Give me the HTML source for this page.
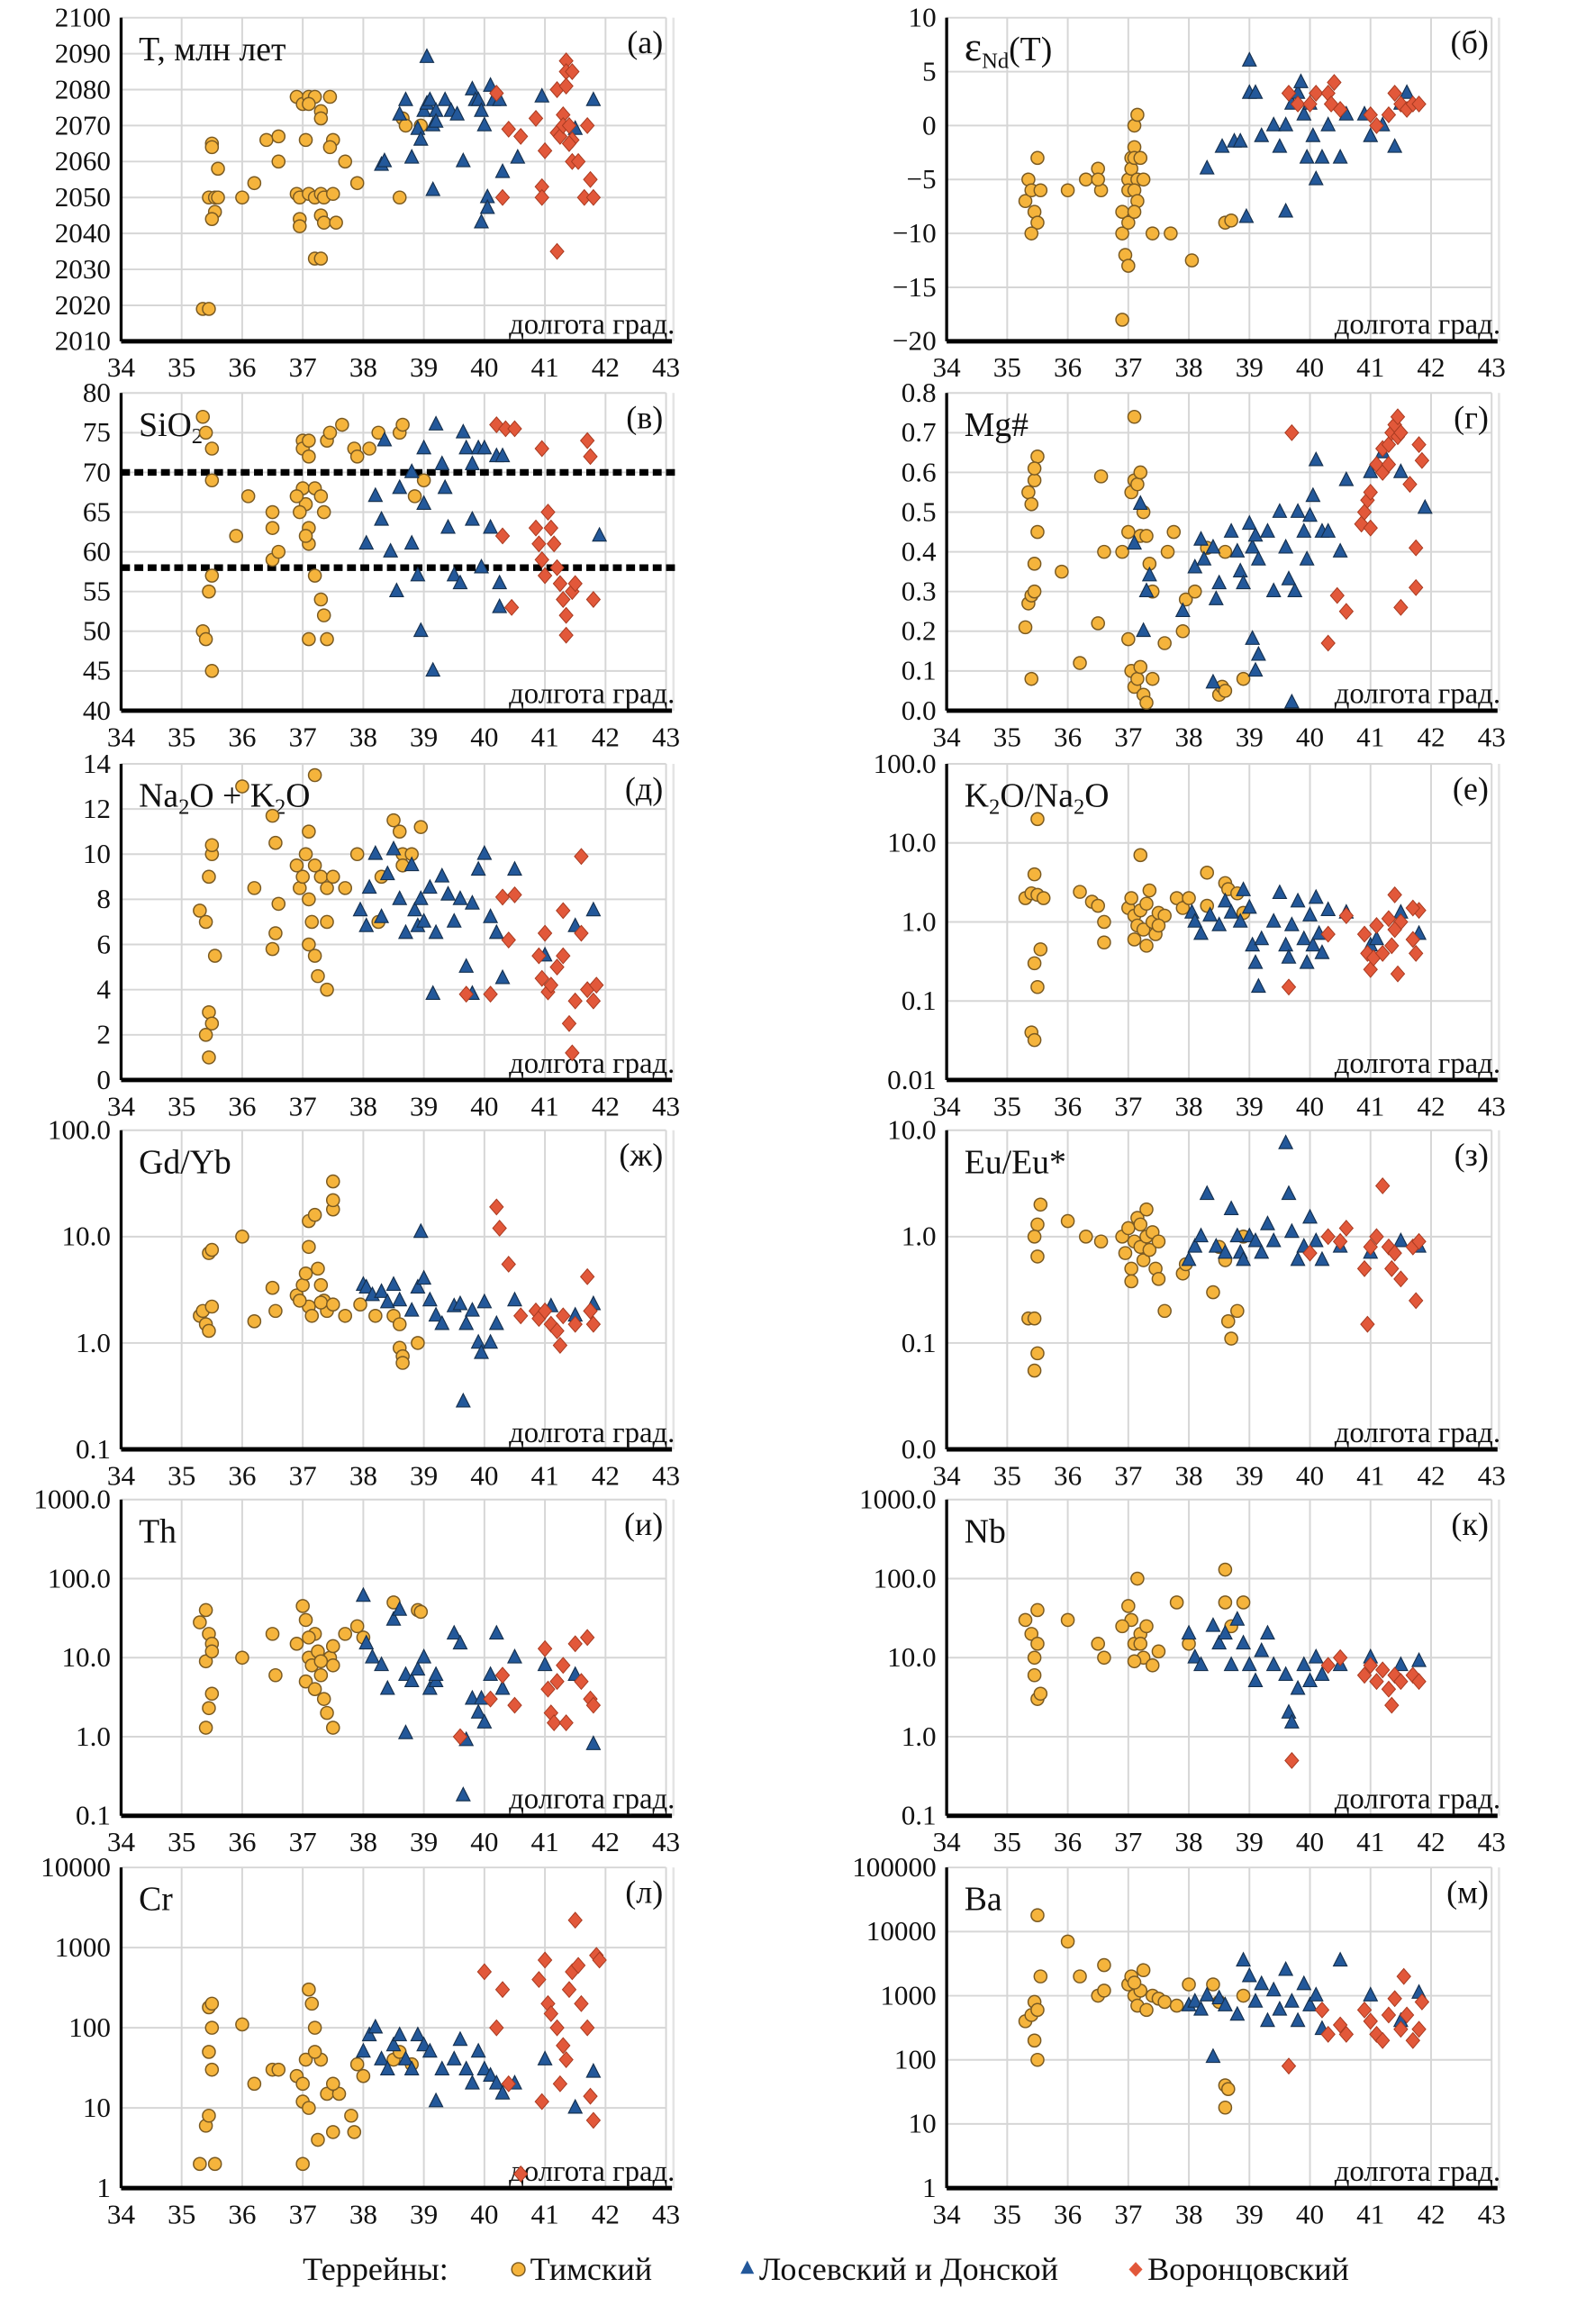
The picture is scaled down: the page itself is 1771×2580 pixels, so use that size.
<!DOCTYPE html>
<html><head><meta charset="utf-8"><style>
html,body{margin:0;padding:0;background:#fff}
svg{display:block}
text{font-family:"Liberation Serif","DejaVu Serif",serif;fill:#111}
</style></head><body>
<svg id="fig" width="1771" height="2580" viewBox="0 0 1080 1573" preserveAspectRatio="none" xmlns="http://www.w3.org/2000/svg"></svg>
<script>
// ---------- data ----------
const xTicks=[34,35,36,37,38,39,40,41,42,43];
const aTicks=[2010,2020,2030,2040,2050,2060,2070,2080,2090,2100];
const aTim=[[35.35,2019],[35.45,2019],[35.5,2065],[35.5,2064],[35.6,2058],[35.45,2050],[35.55,2050],[35.6,2050],[35.55,2046],[35.5,2044],[36,2050],[36.2,2054],[36.4,2066],[36.6,2067],[36.6,2060],[36.9,2078],[37.0,2076],[37.1,2078],[37.2,2078],[37.1,2076],[37.45,2078],[37.3,2074],[37.3,2072],[37.05,2066],[37.5,2066],[37.45,2064],[37.7,2060],[36.9,2051],[36.95,2050],[37.1,2051],[37.2,2050],[37.3,2051],[37.35,2050],[37.5,2051],[36.95,2044],[36.95,2042],[37.3,2045],[37.35,2043],[37.55,2043],[37.9,2054],[37.2,2033],[37.3,2033],[38.6,2050],[38.65,2072],[38.7,2070],[38.95,2070]];
const aLos=[[38.3,2059],[38.35,2060],[38.6,2073],[38.7,2077],[38.8,2061],[38.9,2069],[38.95,2066],[39.0,2074],[39.05,2076],[39.05,2089],[39.1,2077],[39.15,2070],[39.2,2074],[39.2,2071],[39.15,2052],[39.35,2077],[39.45,2074],[39.55,2073],[39.65,2060],[39.8,2080],[39.85,2077],[39.9,2077],[39.95,2074],[40.0,2070],[39.95,2043],[40.05,2050],[40.05,2047],[40.1,2081],[40.15,2077],[40.25,2077],[40.3,2057],[40.55,2061],[40.95,2078],[41.5,2069],[41.8,2077]];
const aVor=[[40.2,2079],[40.3,2050],[40.4,2069],[40.6,2067],[40.85,2072],[40.95,2053],[40.95,2050],[41.0,2063],[41.2,2080],[41.3,2073],[41.35,2088],[41.35,2085],[41.45,2085],[41.35,2081],[41.2,2068],[41.25,2067],[41.3,2070],[41.4,2070],[41.45,2066],[41.4,2065],[41.45,2060],[41.55,2060],[41.2,2035],[41.7,2070],[41.75,2055],[41.65,2050],[41.8,2050]];

const bTicks=[-20,-15,-10,-5,0,5,10];
const bTim=[[35.3,-7],[35.35,-5],[35.5,-3],[35.4,-6],[35.45,-8],[35.5,-9],[35.4,-10],[35.55,-6],[36.0,-6],[36.3,-5],[36.5,-4],[36.55,-6],[36.5,-5],[36.9,-8],[36.9,-10],[36.95,-12],[36.9,-18],[37.0,-13],[37.0,-9],[37.0,-5],[37.05,-3],[37.05,-4],[37.0,-6],[37.1,-2],[37.1,0],[37.15,1],[37.1,-3],[37.15,-5],[37.1,-6],[37.15,-7],[37.1,-8],[37.2,-3],[37.25,-5],[37.4,-10],[37.7,-10],[38.05,-12.5],[38.6,-9],[38.7,-8.8]];
const bLos=[[38.3,-4],[38.55,-2],[38.75,-1.5],[38.85,-1.5],[38.95,-8.5],[39.0,6],[39.0,3],[39.1,3],[39.2,-1],[39.4,0],[39.5,-2],[39.6,0],[39.6,-8],[39.7,2],[39.8,3],[39.85,4],[39.9,1],[39.95,-3],[40.0,2],[40.05,-1],[40.1,-5],[40.2,-3],[40.3,0],[40.5,-3],[40.6,1],[40.9,1],[41.0,-1],[41.2,0],[41.4,-2],[41.5,2],[41.6,3]];
const bVor=[[39.65,3],[39.8,2],[40.0,2],[40.1,3],[40.3,3],[40.4,4],[40.35,2],[40.5,1.5],[41.0,1],[41.1,0],[41.3,1],[41.4,3],[41.5,2],[41.6,1.5],[41.7,2],[41.8,2]];

const cTicks=[40,45,50,55,60,65,70,75,80];
const cLines=[70,58];
const cTim=[[35.35,77],[35.4,75],[35.5,73],[35.5,69],[35.5,57],[35.45,55],[35.35,50],[35.4,49],[35.5,45],[35.9,62],[36.1,67],[36.5,65],[36.5,63],[36.5,59],[36.6,60],[37.0,74],[37.0,73],[37.1,74],[37.1,72],[37.0,68],[37.05,66],[37.1,63],[37.1,61],[37.2,68],[37.3,67],[37.35,65],[37.4,74],[37.45,75],[36.9,67],[36.95,65],[37.05,62],[37.2,57],[37.3,54],[37.35,52],[37.4,49],[37.1,49],[37.65,76],[37.85,73],[37.9,72],[38.1,73],[38.25,75],[38.6,75],[38.65,76],[38.85,67],[39.0,69]];
const cLos=[[38.05,61],[38.2,67],[38.3,64],[38.35,74],[38.45,60],[38.55,55],[38.6,68],[38.8,70],[38.8,61],[38.9,57],[39.0,73],[39.0,66],[38.95,50],[39.15,45],[39.2,76],[39.3,71],[39.35,68],[39.4,63],[39.5,57],[39.6,56],[39.65,75],[39.7,73],[39.8,71],[39.8,64],[39.9,73],[40.0,73],[40.1,63],[40.2,72],[40.25,53],[40.25,56],[40.3,72],[39.95,58],[41.9,62]];
const cVor=[[40.2,76],[40.35,75.5],[40.5,75.5],[40.3,62],[40.45,53],[40.95,73],[40.85,63],[40.9,61],[40.95,59],[41.0,57],[41.05,65],[41.1,63],[41.15,61],[41.2,58],[41.25,56],[41.3,54],[41.35,49.5],[41.35,52],[41.45,55],[41.5,56],[41.7,74],[41.75,72],[41.8,54]];

const dTicks=[0,0.1,0.2,0.3,0.4,0.5,0.6,0.7,0.8];
const dTim=[[35.3,0.21],[35.35,0.27],[35.4,0.29],[35.45,0.3],[35.35,0.55],[35.4,0.52],[35.45,0.58],[35.5,0.64],[35.45,0.61],[35.5,0.45],[35.45,0.37],[35.4,0.08],[35.9,0.35],[36.2,0.12],[36.5,0.22],[36.6,0.4],[36.55,0.59],[36.9,0.4],[37.0,0.45],[37.05,0.55],[37.1,0.58],[37.15,0.57],[37.2,0.6],[37.25,0.5],[37.2,0.44],[37.1,0.74],[37.3,0.44],[37.35,0.37],[37.4,0.3],[37.0,0.18],[37.05,0.1],[37.1,0.06],[37.15,0.08],[37.2,0.11],[37.25,0.04],[37.3,0.02],[37.4,0.08],[37.6,0.17],[37.65,0.4],[37.75,0.45],[37.9,0.2],[37.95,0.28],[38.1,0.3],[38.3,0.41],[38.5,0.04],[38.55,0.06],[38.6,0.05],[38.9,0.08],[38.6,0.4]];
const dLos=[[37.1,0.42],[37.2,0.52],[37.3,0.3],[37.35,0.34],[37.25,0.2],[37.9,0.25],[38.1,0.36],[38.2,0.43],[38.25,0.38],[38.4,0.41],[38.45,0.28],[38.5,0.32],[38.7,0.45],[38.8,0.4],[38.85,0.35],[38.9,0.32],[39.0,0.47],[39.05,0.41],[39.1,0.44],[39.15,0.38],[39.05,0.18],[39.1,0.1],[39.15,0.14],[38.4,0.07],[39.3,0.45],[39.4,0.3],[39.5,0.5],[39.6,0.41],[39.65,0.33],[39.7,0.02],[39.75,0.3],[39.8,0.5],[39.9,0.45],[39.95,0.38],[40.0,0.49],[40.05,0.54],[40.1,0.63],[40.2,0.45],[40.3,0.45],[40.5,0.4],[40.6,0.58],[41.0,0.6],[41.2,0.65],[41.5,0.6],[41.9,0.51]];
const dVor=[[39.7,0.7],[40.3,0.17],[40.45,0.29],[40.6,0.25],[40.85,0.47],[40.9,0.5],[40.95,0.53],[41.0,0.55],[41.1,0.62],[41.2,0.66],[41.3,0.67],[41.35,0.7],[41.4,0.72],[41.45,0.74],[41.45,0.69],[41.5,0.7],[41.2,0.6],[41.3,0.62],[41.5,0.26],[41.65,0.57],[41.75,0.41],[41.75,0.31],[41.8,0.67],[41.85,0.63],[41.0,0.46]];

const eTicks=[0,2,4,6,8,10,12,14];
const eTim=[[35.3,7.5],[35.4,7],[35.45,9],[35.5,10],[35.5,10.4],[35.55,5.5],[35.45,3],[35.5,2.5],[35.4,2],[35.45,1],[36.0,13],[36.2,8.5],[36.5,11.7],[36.55,10.5],[36.55,6.5],[36.5,5.8],[36.6,7.8],[36.9,9.5],[36.95,8.5],[37.0,9],[37.05,10],[37.1,11],[37.2,13.5],[37.1,8],[37.15,7],[37.2,9.5],[37.3,9],[37.4,8.5],[37.1,6],[37.2,5.5],[37.25,4.6],[37.4,4],[37.4,7],[37.5,9],[37.7,8.5],[37.9,10],[38.3,9],[38.5,11.5],[38.6,11],[38.65,10],[38.8,10],[38.95,11.2],[38.25,7],[38.65,9.5]];
const eLos=[[37.95,7.5],[38.05,6.8],[38.1,8.5],[38.2,10],[38.3,7.2],[38.4,9.1],[38.5,10.2],[38.6,8],[38.7,6.5],[38.8,9.5],[38.85,7.5],[38.9,6.8],[38.95,8],[39.0,7],[39.1,8.5],[39.15,3.8],[39.2,6.5],[39.3,9],[39.4,8.2],[39.5,7],[39.6,8],[39.7,5],[39.8,7.8],[39.9,9.3],[40.0,10],[40.1,7.2],[40.2,6.5],[40.3,4.5],[40.5,9.3],[41.0,5.5],[41.5,6.8],[41.8,7.5],[39.8,3.8]];
const eVor=[[39.7,3.8],[40.1,3.8],[40.3,8.1],[40.5,8.2],[40.4,6.2],[40.9,5.5],[40.95,4.5],[41.0,6.5],[41.05,3.9],[41.1,4.2],[41.2,5],[41.3,7.5],[41.4,2.5],[41.45,1.2],[41.5,3.5],[41.6,9.9],[41.6,6.5],[41.7,4],[41.8,3.5],[41.85,4.2],[41.3,5.5]];

const fTim=[[35.3,2],[35.4,2.3],[35.5,20],[35.45,4],[35.5,2.2],[35.45,0.3],[35.5,0.15],[35.55,0.45],[35.4,0.04],[35.45,0.032],[35.6,2],[36.2,2.4],[36.4,1.8],[36.5,1.6],[36.6,1.0],[36.6,0.55],[37.0,1.5],[37.05,2],[37.1,1.2],[37.15,0.9],[37.2,1.4],[37.25,0.8],[37.3,1.7],[37.35,2.5],[37.2,7],[37.4,1.0],[37.45,0.7],[37.1,0.6],[37.3,0.5],[37.5,1.3],[37.8,2],[37.9,1.5],[38.3,4.2],[38.6,3.1],[38.65,2.6],[38.8,2.3],[38.9,1.3],[37.6,1.2],[38.0,2],[38.3,1.6],[37.5,0.9]];
const fLos=[[38.05,1.3],[38.1,1.0],[38.2,0.7],[38.35,1.2],[38.5,0.9],[38.6,1.8],[38.7,1.3],[38.85,1.0],[38.9,2.5],[39.0,1.5],[39.05,0.5],[39.1,0.3],[39.15,0.15],[39.2,0.6],[39.4,1.0],[39.5,2.3],[39.6,0.5],[39.65,0.35],[39.7,0.9],[39.8,1.8],[39.9,0.6],[39.95,0.3],[40.0,1.2],[40.05,0.5],[40.1,2],[40.15,0.7],[40.2,0.4],[40.3,1.4],[40.6,1.3],[41.0,0.5],[41.1,0.6],[41.5,1.3],[41.8,0.7]];
const fVor=[[39.65,0.15],[40.3,0.7],[40.6,1.2],[40.9,0.7],[40.95,0.4],[41.0,0.25],[41.05,0.35],[41.1,0.9],[41.2,0.4],[41.3,1.1],[41.35,0.5],[41.4,2.2],[41.45,0.22],[41.5,1.0],[41.7,0.6],[41.75,0.4],[41.8,1.4],[41.7,1.5],[41.4,0.8]];

const gTim=[[35.3,1.8],[35.35,2],[35.4,1.5],[35.45,1.3],[35.5,2.2],[35.45,7],[35.5,7.5],[36.0,10],[36.2,1.6],[36.5,3.3],[36.55,2],[36.9,2.8],[37.0,3.5],[37.05,4.5],[37.1,8],[37.1,14],[37.2,16],[37.25,5],[37.3,3.5],[37.35,2.5],[37.4,2],[37.1,2.2],[37.15,1.8],[37.5,18],[37.5,33],[37.5,22],[36.95,2.5],[37.3,2.4],[37.5,2.3],[37.7,1.8],[37.95,2.3],[38.2,1.8],[38.5,1.8],[38.6,1.5],[38.6,0.9],[38.65,0.75],[38.65,0.65],[38.9,1.0]];
const gLos=[[38.0,3.5],[38.05,3.3],[38.15,2.8],[38.3,3.0],[38.4,2.4],[38.5,3.5],[38.6,2.5],[38.8,2.0],[38.9,3.3],[38.95,11],[39.0,4],[39.1,2.5],[39.2,1.8],[39.3,1.5],[39.5,2.2],[39.6,2.3],[39.65,0.28],[39.7,1.5],[39.8,2.0],[39.9,1.0],[39.95,0.8],[40.0,2.4],[40.1,1.0],[40.2,1.5],[40.5,2.5],[41.1,2.2],[41.5,1.8],[41.8,2.3]];
const gVor=[[40.2,19],[40.25,12],[40.4,5.5],[40.6,1.8],[40.85,2],[40.9,1.7],[41.0,2],[41.1,1.5],[41.2,1.3],[41.25,0.95],[41.3,1.8],[41.5,1.5],[41.7,4.2],[41.75,2],[41.8,1.5]];

const hTim=[[35.35,0.17],[35.45,0.17],[35.5,0.08],[35.45,0.055],[35.5,1.3],[35.55,2],[35.45,1],[35.5,0.65],[36.0,1.4],[36.3,1.0],[36.55,0.9],[36.9,1.0],[36.95,0.7],[37.0,1.2],[37.05,0.5],[37.1,0.9],[37.15,1.5],[37.2,0.8],[37.25,0.6],[37.3,1.0],[37.35,0.75],[37.4,1.1],[37.45,0.5],[37.5,0.9],[37.5,0.4],[37.05,0.38],[37.2,1.3],[37.6,0.2],[37.9,0.45],[37.95,0.55],[38.4,0.3],[38.6,0.6],[38.65,0.16],[38.7,0.11],[38.8,0.2],[38.5,0.8],[38.9,1.0],[37.3,1.8]];
const hLos=[[38.0,0.6],[38.1,0.8],[38.2,1.0],[38.3,2.5],[38.45,0.8],[38.6,0.7],[38.7,1.8],[38.8,1.0],[38.85,0.7],[38.9,0.6],[39.0,1.0],[39.1,0.9],[39.2,0.7],[39.4,0.9],[39.6,7.5],[39.65,2.5],[39.7,1.1],[39.8,0.6],[39.9,0.8],[40.0,1.5],[40.1,0.9],[40.2,0.6],[40.5,0.8],[41.0,0.7],[41.5,0.9],[41.8,0.8],[39.3,1.3]];
const hVor=[[40.0,0.7],[40.3,1.0],[40.5,0.9],[40.6,1.2],[40.9,0.5],[40.95,0.15],[41.0,0.8],[41.1,1.0],[41.2,3.0],[41.3,0.8],[41.35,0.5],[41.4,0.7],[41.5,0.4],[41.7,0.8],[41.75,0.25],[41.8,0.9]];

const iTim=[[35.3,28],[35.4,40],[35.45,20],[35.5,15],[35.4,9],[35.5,12],[35.5,3.5],[35.45,2.3],[35.4,1.3],[36.0,10],[36.5,20],[36.55,6],[36.9,15],[37.0,45],[37.05,30],[37.1,10],[37.15,8],[37.2,20],[37.25,12],[37.3,6],[37.35,3],[37.4,2],[37.45,10],[37.5,8],[37.5,1.3],[37.05,5],[37.1,18],[37.2,4],[37.3,9],[37.5,14],[37.7,20],[37.9,25],[38.0,18],[38.5,50],[38.9,40],[38.95,38]];
const iLos=[[38.0,60],[38.05,15],[38.15,10],[38.3,8],[38.4,4],[38.5,30],[38.6,40],[38.7,6],[38.8,5],[38.9,7],[39.0,10],[39.1,4],[39.2,5],[38.7,1.1],[39.5,20],[39.6,15],[39.65,0.18],[39.7,0.9],[39.8,3],[39.9,2],[39.95,3],[40.0,1.5],[40.1,6],[40.2,20],[40.3,4],[40.5,10],[41.0,8],[41.5,6],[41.8,0.8],[39.2,6]];
const iVor=[[39.6,1.0],[40.1,3],[40.3,6],[40.5,2.5],[41.0,13],[41.05,4],[41.1,2],[41.15,1.5],[41.2,5],[41.3,8],[41.35,1.5],[41.5,15],[41.6,5],[41.7,18],[41.75,3],[41.8,2.5]];

const jTim=[[35.3,30],[35.4,20],[35.45,10],[35.5,40],[35.45,6],[35.5,3],[35.55,3.5],[35.5,15],[36.0,30],[36.5,15],[36.6,10],[37.0,45],[37.05,30],[37.1,15],[37.15,100],[37.2,20],[37.25,10],[37.3,25],[37.4,8],[37.5,12],[37.1,9],[37.2,15],[37.8,50],[38.0,15],[38.6,130],[38.6,50],[38.9,50],[38.7,25],[36.9,25]];
const jLos=[[38.0,20],[38.1,10],[38.2,8],[38.4,25],[38.5,15],[38.6,20],[38.7,8],[38.8,30],[38.9,15],[39.0,8],[39.1,5],[39.2,12],[39.3,20],[39.4,8],[39.6,6],[39.65,2],[39.7,1.5],[39.8,4],[39.9,8],[40.0,5],[40.1,10],[40.2,6],[40.5,8],[41.0,10],[41.5,8],[41.8,9]];
const jVor=[[39.7,0.5],[40.3,8],[40.5,10],[40.9,6],[41.0,8],[41.1,5],[41.2,7],[41.3,4],[41.35,2.5],[41.4,6],[41.5,5],[41.7,6],[41.8,5]];

const kTim=[[35.3,2],[35.4,6],[35.45,8],[35.5,30],[35.45,50],[35.5,100],[35.45,180],[35.5,200],[35.55,2],[36.0,110],[36.2,20],[36.5,30],[36.6,30],[36.9,25],[37.0,20],[37.05,40],[37.1,300],[37.15,200],[37.2,100],[37.3,40],[37.4,15],[37.0,12],[37.1,10],[37.25,4],[37.5,5],[37.0,2],[37.6,15],[37.8,8],[37.85,5],[37.9,35],[38.0,25],[38.5,40],[38.6,50],[38.8,35],[37.2,50],[37.5,20]];
const kLos=[[38.0,50],[38.1,80],[38.2,100],[38.3,40],[38.4,30],[38.5,60],[38.6,80],[38.7,40],[38.8,30],[38.9,80],[39.0,60],[39.1,50],[39.2,12],[39.3,30],[39.5,40],[39.6,70],[39.7,30],[39.8,20],[39.9,50],[40.0,30],[40.1,25],[40.2,20],[40.3,15],[40.5,20],[41.0,40],[41.5,10],[41.8,28]];
const kVor=[[40.0,500],[40.2,100],[40.3,300],[40.4,20],[40.6,1.5],[40.9,400],[41.0,700],[41.05,200],[41.1,150],[41.2,100],[41.3,60],[41.35,40],[41.4,300],[41.45,500],[41.5,2200],[41.55,600],[41.6,200],[41.7,100],[41.75,14],[41.8,7],[41.85,800],[41.9,700],[40.95,12],[41.25,20]];

const lTim=[[35.3,400],[35.4,500],[35.45,200],[35.5,100],[35.5,18000],[35.55,2000],[35.45,800],[35.5,600],[36.0,7000],[36.2,2000],[36.5,1000],[36.6,1200],[37.0,1500],[37.05,2000],[37.1,1000],[37.15,700],[37.2,1200],[37.25,2500],[37.3,600],[37.4,1000],[37.5,900],[36.6,3000],[37.6,800],[37.8,700],[38.0,1500],[38.4,1500],[38.5,800],[38.6,40],[38.65,35],[38.6,18],[38.9,1000],[37.1,1600]];
const lLos=[[38.0,700],[38.1,800],[38.2,600],[38.3,1000],[38.4,110],[38.5,900],[38.6,700],[38.8,500],[38.9,3500],[39.0,2000],[39.1,800],[39.2,1500],[39.3,400],[39.4,1200],[39.5,600],[39.6,2500],[39.7,800],[39.8,400],[39.9,1500],[40.0,700],[40.1,1000],[40.2,300],[40.5,3500],[41.0,1000],[41.5,400],[41.8,1100]];
const lVor=[[39.65,80],[40.2,600],[40.3,250],[40.5,350],[40.6,250],[40.9,600],[41.0,400],[41.1,250],[41.2,200],[41.3,500],[41.4,900],[41.5,300],[41.55,2000],[41.6,500],[41.7,200],[41.8,300],[41.85,800]];

// ---------- drawing ----------
const NS="http://www.w3.org/2000/svg";
const svg=document.getElementById('fig');
function mk(tag,attrs,parent){const e=document.createElementNS(NS,tag);for(const k in attrs)e.setAttribute(k,attrs[k]);(parent||svg).appendChild(e);return e;}
const COLS=[{x0:82,x1:451},{x0:641,x1:1010}];
const ROWS=[{t:12,b:231},{t:266,b:481},{t:517,b:731},{t:765,b:981},{t:1015,b:1229},{t:1264,b:1481}];

function panel(o){
  const C=COLS[o.col],R=ROWS[o.row];
  const g=mk('g',{});
  
  
  const xs=v=>C.x0+(v-34)/(43-34)*(C.x1-C.x0);
  let ys;
  if(o.log){const a=Math.log10(o.min),b=Math.log10(o.max);ys=v=>R.b-(Math.log10(v)-a)/(b-a)*(R.b-R.t);}
  else ys=v=>R.b-(v-o.min)/(o.max-o.min)*(R.b-R.t);
  xTicks.forEach(t=>{const l=mk('line',{x1:xs(t),x2:xs(t),y1:R.t,y2:R.b,stroke:'#d6d6d6','stroke-width':1.2},g);});
  o.ticks.forEach((t,i)=>{const y=ys(t);
    const l=mk('line',{x1:C.x0,x2:C.x1,y1:y,y2:y,stroke:'#d6d6d6','stroke-width':1.2},g);
    const tx=mk('text',{x:C.x0-7,y:y+6,'text-anchor':'end','font-size':19},g);tx.textContent=o.labels[i];
    });
  xTicks.forEach(t=>{const tx=mk('text',{x:xs(t),y:R.b+24,'text-anchor':'middle','font-size':19},g);tx.textContent=t;
    });
  const ya=mk('line',{x1:C.x0,x2:C.x0,y1:R.t,y2:R.b,stroke:'#000','stroke-width':2},g);
  const xa=mk('line',{x1:C.x0,x2:C.x1+4,y1:R.b,y2:R.b,stroke:'#000','stroke-width':3},g);
  const rb=mk('line',{x1:C.x1+5,x2:C.x1+5,y1:R.t,y2:R.b,stroke:'#e4e4e4','stroke-width':1.5},g);
  (o.hlines||[]).forEach(v=>{const l=mk('line',{x1:C.x0,x2:C.x1+6,y1:ys(v),y2:ys(v),stroke:'#000','stroke-width':4.5,'stroke-dasharray':'6 3'},g);
    });
  const ti=mk('text',{x:C.x0+12,y:R.t+29,'font-size':23},g);ti.innerHTML=o.title;
  const le=mk('text',{x:C.x1-2,y:R.t+24,'text-anchor':'end','font-size':22},g);le.textContent=o.letter;
  const xl=mk('text',{x:C.x1+6,y:R.b-5,'text-anchor':'end','font-size':20},g);xl.textContent='долгота град.';
  o.tim.forEach(p=>{const c=mk('circle',{cx:xs(p[0]),cy:ys(p[1]),r:4.3,fill:'#f5b43c',stroke:'#7a5a22','stroke-width':0.9},g);
    });
  o.los.forEach(p=>{const x=xs(p[0]),y=ys(p[1]);const t=mk('polygon',{points:`${x},${y-5.5} ${x-4.6},${y+3.5} ${x+4.6},${y+3.5}`,fill:'#23589a',stroke:'#15304f','stroke-width':0.7},g);
    });
  o.vor.forEach(p=>{const x=xs(p[0]),y=ys(p[1]);const d=mk('polygon',{points:`${x},${y-5.3} ${x+4.6},${y} ${x},${y+5.3} ${x-4.6},${y}`,fill:'#e2583a',stroke:'#a83a20','stroke-width':0.6},g);
    });
}
const sub=s=>`<tspan dy="5" font-size="15">${s}</tspan><tspan dy="-5">\u200B</tspan>`;
const numL=(arr,dp)=>arr.map(v=>v.toFixed(dp));
panel({name:'age',col:0,row:0,min:2010,max:2100,ticks:aTicks,labels:aTicks.map(String),title:'T, млн лет',letter:'(а)',tim:aTim,los:aLos,vor:aVor});
panel({name:'eps-nd',col:1,row:0,min:-20,max:10,ticks:bTicks,labels:bTicks.map(v=>v<0?'−'+(-v):String(v)),title:'<tspan font-size="28">ε</tspan>'+sub('Nd')+'(T)',letter:'(б)',tim:bTim,los:bLos,vor:bVor});
panel({name:'sio2',col:0,row:1,min:40,max:80,ticks:cTicks,labels:cTicks.map(String),title:'SiO'+sub('2'),letter:'(в)',hlines:cLines,tim:cTim,los:cLos,vor:cVor});
panel({name:'mg',col:1,row:1,min:0,max:0.8,ticks:dTicks,labels:numL(dTicks,1),title:'Mg#',letter:'(г)',tim:dTim,los:dLos,vor:dVor});
panel({name:'alkali',col:0,row:2,min:0,max:14,ticks:eTicks,labels:eTicks.map(String),title:'Na'+sub('2')+'O + K'+sub('2')+'O',letter:'(д)',tim:eTim,los:eLos,vor:eVor});
panel({name:'k2o-na2o',col:1,row:2,log:1,min:0.01,max:100,ticks:[0.01,0.1,1,10,100],labels:['0.01','0.1','1.0','10.0','100.0'],title:'K'+sub('2')+'O/Na'+sub('2')+'O',letter:'(е)',tim:fTim,los:fLos,vor:fVor});
panel({name:'gd-yb',col:0,row:3,log:1,min:0.1,max:100,ticks:[0.1,1,10,100],labels:['0.1','1.0','10.0','100.0'],title:'Gd/Yb',letter:'(ж)',tim:gTim,los:gLos,vor:gVor});
panel({name:'eu-anomaly',col:1,row:3,log:1,min:0.01,max:10,ticks:[0.01,0.1,1,10],labels:['0.0','0.1','1.0','10.0'],title:'Eu/Eu*',letter:'(з)',tim:hTim,los:hLos,vor:hVor});
panel({name:'th',col:0,row:4,log:1,min:0.1,max:1000,ticks:[0.1,1,10,100,1000],labels:['0.1','1.0','10.0','100.0','1000.0'],title:'Th',letter:'(и)',tim:iTim,los:iLos,vor:iVor});
panel({name:'nb',col:1,row:4,log:1,min:0.1,max:1000,ticks:[0.1,1,10,100,1000],labels:['0.1','1.0','10.0','100.0','1000.0'],title:'Nb',letter:'(к)',tim:jTim,los:jLos,vor:jVor});
panel({name:'cr',col:0,row:5,log:1,min:1,max:10000,ticks:[1,10,100,1000,10000],labels:['1','10','100','1000','10000'],title:'Cr',letter:'(л)',tim:kTim,los:kLos,vor:kVor});
panel({name:'ba',col:1,row:5,log:1,min:1,max:100000,ticks:[1,10,100,1000,10000,100000],labels:['1','10','100','1000','10000','100000'],title:'Ba',letter:'(м)',tim:lTim,los:lLos,vor:lVor});
</script>
<svg style="position:absolute;left:0;top:0" width="1771" height="2580" viewBox="0 0 1080 1573" preserveAspectRatio="none">
  <text x="205" y="1543" font-size="22">Террейны:</text>
  <circle cx="351" cy="1536" r="4.5" fill="#f5b43c" stroke="#7a5a22" stroke-width="0.9"/>
  <text x="359" y="1543" font-size="22">Тимский</text>
  <polygon points="506,1530 501.4,1539 510.6,1539" fill="#23589a"/>
  <text x="514" y="1543" font-size="22">Лосевский и Донской</text>
  <polygon points="769,1531 773.6,1536 769,1541 764.4,1536" fill="#e2583a"/>
  <text x="777" y="1543" font-size="22">Воронцовский</text>
</svg>
</body></html>
